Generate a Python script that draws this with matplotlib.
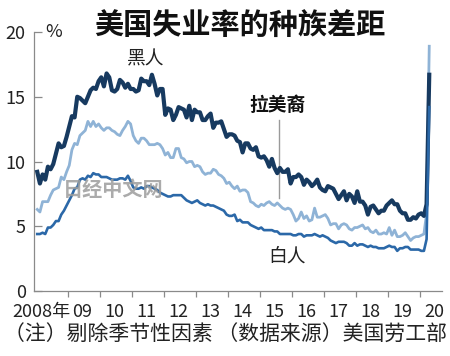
import matplotlib
matplotlib.use("Agg")
import matplotlib.pyplot as plt
import numpy as np

plt.rcParams['font.family'] = ['Noto Sans CJK SC', 'DejaVu Sans']

# 月度失业率(%)，2008年1月 - 2020年4月，剔除季节性因素
black = [9.2, 8.3, 9.0, 8.6, 9.6, 9.4, 9.8, 10.6, 11.4, 11.1, 11.2, 11.9,
         12.7, 13.5, 13.4, 15.0, 14.9, 14.7, 14.5, 15.0, 15.5, 15.7, 15.6, 16.2,
         16.5, 15.8, 16.8, 16.5, 15.5, 15.4, 15.6, 16.3, 16.1, 15.7, 16.0, 15.6,
         15.6, 15.4, 15.5, 16.4, 16.2, 16.2, 15.9, 16.7, 16.0, 15.1, 15.6, 15.6,
         13.6, 14.1, 14.0, 13.2, 13.6, 14.2, 14.1, 14.0, 13.4, 14.3, 13.2, 14.0,
         13.8, 13.8, 13.2, 13.2, 13.5, 13.7, 12.6, 13.0, 13.0, 13.1, 12.5, 11.9,
         12.1, 12.1, 12.0, 11.6, 11.5, 10.7, 11.4, 11.4, 11.0, 10.9, 11.1, 10.4,
         10.3, 10.4, 10.1, 9.6, 10.2, 9.5, 9.1, 9.5, 9.2, 9.2, 9.4, 8.3,
         8.8, 8.8, 9.0, 8.8, 8.2, 8.6, 8.4, 8.1, 8.3, 8.6, 8.0, 7.8,
         7.7, 8.1, 8.0, 7.9, 7.5, 7.1, 7.4, 7.7, 7.0, 7.5, 7.3, 6.8,
         7.7, 6.9, 6.9, 6.6, 5.9, 6.5, 6.6, 6.3, 6.0, 6.2, 6.2, 6.6,
         6.8, 7.0, 6.7, 6.7, 6.2, 6.0, 6.0, 5.5, 5.5, 5.7, 5.6, 5.9,
         6.0, 5.8, 6.7, 16.7]

hispanic = [6.3, 6.1, 6.9, 6.9, 6.9, 7.4, 7.8, 7.9, 8.0, 8.8, 8.6, 9.2,
            9.7, 10.9, 11.4, 11.3, 12.0, 12.2, 12.4, 13.1, 12.7, 13.1, 12.7, 12.9,
            12.6, 12.4, 12.6, 12.6, 12.4, 12.3, 12.1, 12.0, 12.4, 12.7, 13.1, 12.9,
            12.0, 11.6, 11.4, 11.8, 11.8, 11.6, 11.3, 11.3, 11.3, 11.4, 11.3, 11.0,
            10.5, 10.7, 10.3, 10.3, 11.0, 11.0, 10.3, 10.2, 9.9, 10.0, 10.0, 9.6,
            9.7, 9.6, 9.2, 9.0, 9.1, 9.1, 9.4, 9.3, 9.0, 8.9, 8.7, 8.3,
            8.4, 8.1, 7.9, 8.1, 7.7, 7.8, 7.8, 7.6, 6.9, 6.8, 6.6, 6.5,
            6.7, 6.6, 6.8, 6.9, 6.7, 6.6, 6.8, 6.6, 6.4, 6.3, 6.4, 6.3,
            5.9, 5.4, 5.6, 6.1, 5.6, 5.8, 5.4, 5.5, 6.4, 5.7, 5.7, 5.8,
            5.9, 5.6, 5.1, 5.2, 5.2, 4.8, 5.1, 5.2, 5.1, 4.8, 4.7, 4.9,
            4.9, 5.0, 5.1, 4.8, 4.9, 4.6, 4.5, 4.7, 4.4, 4.4, 4.5, 4.4,
            4.9, 4.3, 4.7, 4.2, 4.2, 4.3, 4.5, 4.2, 3.9, 4.1, 4.2, 4.2,
            4.3, 4.4, 6.0, 18.9]

white = [4.4, 4.4, 4.5, 4.4, 4.9, 4.9, 5.1, 5.4, 5.4, 5.9, 6.2, 6.6,
         7.0, 7.4, 7.9, 8.0, 8.6, 8.7, 8.6, 8.9, 8.8, 9.1, 9.0, 9.0,
         8.8, 8.8, 8.8, 8.7, 8.6, 8.6, 8.6, 8.7, 8.7, 8.6, 8.9, 8.5,
         8.0, 7.9, 7.9, 8.0, 7.9, 8.1, 8.1, 8.0, 7.9, 7.8, 7.6, 7.5,
         7.4, 7.3, 7.3, 7.4, 7.4, 7.4, 7.4, 7.2, 7.0, 6.9, 6.8, 6.9,
         7.0, 6.8, 6.7, 6.6, 6.7, 6.6, 6.6, 6.5, 6.4, 6.3, 6.2, 5.9,
         5.8, 5.8, 5.9, 5.4, 5.5, 5.3, 5.3, 5.3, 5.1, 5.0, 4.9, 4.8,
         4.9, 4.7, 4.7, 4.7, 4.7, 4.6, 4.6, 4.4, 4.4, 4.4, 4.4, 4.4,
         4.3, 4.3, 4.4, 4.4, 4.2, 4.3, 4.3, 4.3, 4.4, 4.3, 4.2, 4.3,
         4.2, 4.1, 3.9, 3.8, 3.7, 3.8, 3.8, 3.8, 3.7, 3.5, 3.5, 3.7,
         3.5, 3.6, 3.6, 3.5, 3.4, 3.5, 3.4, 3.4, 3.3, 3.3, 3.3, 3.4,
         3.5, 3.4, 3.4, 3.1, 3.3, 3.3, 3.4, 3.4, 3.2, 3.2, 3.2, 3.2,
         3.1, 3.1, 4.0, 14.2]

years = list(range(2008, 2021))
year_labels = ['2008年'] + ['%02d' % (y % 100) for y in years[1:]]
y_ticks = [0, 5, 10, 15, 20]

# 每月取月中位置
t = 2008 + (np.arange(len(black)) + 0.5) / 12

fig = plt.figure(figsize=(4.5, 3.56), dpi=100)
ax = fig.add_axes([34/450, 1 - 291/356, 408/450, 259/356])

ax.plot(t, hispanic, color='#8fb3d6', lw=2.0, zorder=2, solid_joinstyle='round')
ax.plot(t, black, color='#173a60', lw=3.0, zorder=3, solid_joinstyle='round')
ax.plot(t, white, color='#2b68a8', lw=1.9, zorder=4, solid_joinstyle='round')

ax.set_xlim(2007.94, 2020.69)
ax.set_ylim(0, 20)

for s in ['top', 'right']:
    ax.spines[s].set_visible(False)
for s in ['left', 'bottom']:
    ax.spines[s].set_color('#8a8a8a')
    ax.spines[s].set_linewidth(0.9)

tick_font = ['Liberation Sans Narrow', 'Noto Sans CJK SC']
ax.set_yticks(y_ticks)
ax.set_yticklabels([str(v) for v in y_ticks], family=tick_font, fontsize=13)
ax.tick_params(axis='y', direction='in', length=6, width=0.9, color='#8a8a8a',
               pad=6, labelcolor='#222222')

ax.set_xticks(years[1:])
ax.set_xticklabels([])
ax.tick_params(axis='x', which='major', direction='out', length=4.5, width=0.9,
               color='#8a8a8a')
label_pos = [2008.16] + [y + 0.45 for y in years[1:]]
ax.set_xticks(label_pos, minor=True)
ax.set_xticklabels(year_labels, minor=True, family=tick_font, fontsize=13)
ax.tick_params(axis='x', which='minor', length=0, pad=8.5, labelcolor='#222222')

ax.text(2008.28, 20, '%', family=tick_font, fontsize=13, color='#222222',
        ha='left', va='center')

ax.text(2011.44, 17.9, '黑人', fontsize=13.5, color='#222222', ha='center', va='center')
ax.text(2015.84, 2.7, '白人', fontsize=13.5, color='#222222', ha='center', va='center')
ax.text(2015.56, 14.3, '拉美裔', fontsize=13.5, fontweight='bold', color='#111111',
        ha='center', va='center')
ax.plot([2015.59, 2015.59], [13.2, 7.2], color='#9a9a9a', lw=1.0, zorder=1)

ax.text(2010.42, 7.8, '日经中文网', fontsize=14.5, fontweight='bold', color='#9c9c9c',
        alpha=0.85, ha='center', va='center', zorder=6)

fig.text(240/450, 1 - 25/356, '美国失业率的种族差距', fontsize=21, fontweight='bold',
         color='#111111', ha='center', va='center')
fig.text(225/450, 1 - 335/356, '（注）剔除季节性因素 （数据来源）美国劳工部',
         fontsize=15, color='#222222', ha='center', va='center')

fig.savefig('out.png', dpi=100)
